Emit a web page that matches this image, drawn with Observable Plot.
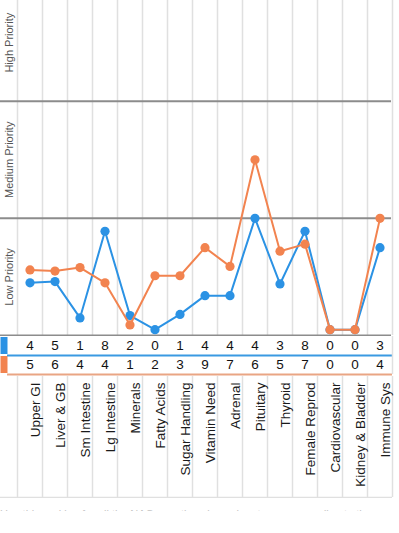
<!DOCTYPE html>
<html>
<head>
<meta charset="utf-8">
<script src="https://cdn.jsdelivr.net/npm/d3@7"></script>
<script src="https://cdn.jsdelivr.net/npm/@observablehq/plot@0.6"></script>
<style>
  html, body { margin: 0; padding: 0; background: #fff; }
  body { width: 399px; height: 533px; overflow: hidden; font-family: "Liberation Sans", Arial, Helvetica, sans-serif; }
  #chart svg { display: block; }
  #caption { height: 4px; overflow: hidden; margin-top: 9px; }
  #caption div { font-size: 11px; line-height: 14px; color: #c4c4c4; white-space: nowrap; }
</style>
</head>
<body>
<div id="chart"></div>
<div id="caption"><div>Use this ranking for all the NAQ questions in each category, according to the questions written (Dr. H)</div></div>
<script>
// ---- data ----
const categories = ["Upper GI", "Liver & GB", "Sm Intestine", "Lg Intestine", "Minerals", "Fatty Acids",
  "Sugar Handling", "Vitamin Need", "Adrenal", "Pituitary", "Thyroid", "Female Reprod",
  "Cardiovascular", "Kidney & Bladder", "Immune Sys"];
// table counts
const blueCounts = [4, 5, 1, 8, 2, 0, 1, 4, 4, 4, 3, 8, 0, 0, 3];
const orangeCounts = [5, 6, 4, 4, 1, 2, 3, 9, 7, 6, 5, 7, 0, 0, 4];
// plotted priority scores (100 = one priority band)
const blueScores = [45, 46, 15, 89, 17, 5, 18, 34, 34, 100, 44, 89, 5, 5, 75];
const orangeScores = [56, 55, 58, 45, 9, 51, 51, 75, 59, 150, 72, 78, 5, 5, 100];
const priorityLabels = ["Low Priority", "Medium Priority", "High Priority"];
const bandBounds = [0, 100, 200];

const BLUE = "#2b92e4";
const ORANGE = "#f2834f";
const W = 399;
const xScale = {type: "linear", domain: [0, categories.length]};
const idx = d3.range(categories.length);
const edges = d3.range(categories.length + 1);

const blueData = idx.map(i => ({i: i + 0.5, v: blueScores[i]}));
const orangeData = idx.map(i => ({i: i + 0.5, v: orangeScores[i]}));

// ---- main chart ----
const main = Plot.plot({
  width: W, height: 336,
  marginLeft: 17, marginRight: 7, marginTop: 0, marginBottom: 1,
  x: {...xScale, axis: null},
  y: {domain: [0, 286], axis: null},
  style: {fontFamily: "Liberation Sans, Arial, sans-serif", background: "white"},
  marks: [
    Plot.ruleX(edges, {x: d => d, stroke: "#e0e0e0", strokeWidth: 1.5}),
    Plot.ruleY(bandBounds, {y: d => d, stroke: "#8c8c8c", strokeWidth: 2, insetLeft: -17, insetRight: 1}),
    Plot.text(priorityLabels, {y: (d, i) => bandBounds[i] + 50, text: d => d, frameAnchor: "left", dx: -8,
      rotate: -90, textAnchor: "middle", fontSize: 11, fill: "#555"}),
    Plot.line(blueData, {x: "i", y: "v", stroke: BLUE, strokeWidth: 2}),
    Plot.dot(blueData, {x: "i", y: "v", r: 4.6, fill: BLUE}),
    Plot.line(orangeData, {x: "i", y: "v", stroke: ORANGE, strokeWidth: 2}),
    Plot.dot(orangeData, {x: "i", y: "v", r: 4.6, fill: ORANGE})
  ]
});

// ---- value table ----
const rows = [
  {row: 0, color: BLUE, line: "#3a9ae2", counts: blueCounts},
  {row: 1, color: ORANGE, line: "#e9a584", counts: orangeCounts}
];
const cells = rows.flatMap(r => r.counts.map((c, i) => ({i: i + 0.5, row: r.row + 0.5, c})));
const table = Plot.plot({
  width: W, height: 40,
  marginLeft: 17, marginRight: 7, marginTop: 0, marginBottom: 2,
  x: {...xScale, axis: null},
  y: {domain: [0, 2], reverse: true, axis: null},
  style: {fontFamily: "Liberation Sans, Arial, sans-serif", background: "white"},
  marks: [
    Plot.ruleX(rows, {x: 0, y1: d => d.row, y2: d => d.row + 1, dx: -13.5, strokeWidth: 7, stroke: "color", insetTop: 1, insetBottom: 1}),
    Plot.ruleY(rows, {y: d => d.row + 1, stroke: "line", strokeWidth: 1.8, insetLeft: -10}),
    Plot.ruleX([categories.length], {x: d => d, stroke: "#e0e0e0", strokeWidth: 1.5}),
    Plot.text(cells, {x: "i", y: "row", text: d => String(d.c), fontSize: 13.5, fill: "#111"})
  ]
});

// ---- category labels ----
const labels = Plot.plot({
  width: W, height: 122,
  marginLeft: 17, marginRight: 7, marginTop: 0, marginBottom: 1,
  x: {...xScale, axis: null},
  y: {domain: [0, 1], axis: null},
  style: {fontFamily: "Liberation Sans, Arial, sans-serif", background: "white"},
  marks: [
    Plot.ruleX(edges, {x: d => d, stroke: "#e0e0e0", strokeWidth: 1.5}),
    Plot.ruleY([0], {y: d => d, stroke: "#e0e0e0", strokeWidth: 1.5, insetLeft: -17}),
    Plot.text(categories, {x: (d, i) => i + 0.5, text: d => d, frameAnchor: "top", dy: 6,
      rotate: -90, textAnchor: "end", fontSize: 13.5, fill: "#1a1a1a"})
  ]
});

const host = document.getElementById("chart");
host.append(main, table, labels);
</script>
</body>
</html>
